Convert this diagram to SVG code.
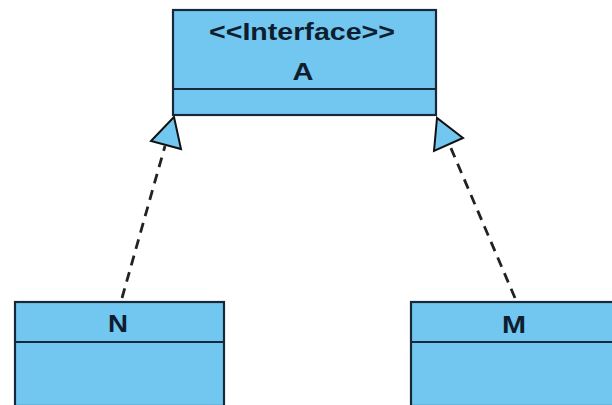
<svg xmlns="http://www.w3.org/2000/svg" width="612" height="405" viewBox="0 0 612 405">
  <style>
    .box { fill: #72c7f0; stroke: #16283a; stroke-width: 2.2; }
    .div { stroke: #16283a; stroke-width: 2.2; }
    .lbl { font-family: "Liberation Sans", Arial, sans-serif; font-weight: bold; font-size: 23px; fill: #0f1e2e; text-anchor: middle; }
    .dash { stroke: #222; stroke-width: 2.8; stroke-dasharray: 10 7; fill: none; }
    .head { fill: #72c7f0; stroke: #111; stroke-width: 2; stroke-linejoin: miter; }
  </style>
  <rect width="612" height="405" fill="#ffffff"/>

  <!-- interface A -->
  <g id="A">
    <rect class="box" x="173" y="10" width="263" height="105"/>
    <line class="div" x1="173" y1="89" x2="436" y2="89"/>
    <text class="lbl" x="302" y="40" textLength="186" lengthAdjust="spacingAndGlyphs">&lt;&lt;Interface&gt;&gt;</text>
    <text class="lbl" x="303" y="80" textLength="21" lengthAdjust="spacingAndGlyphs">A</text>
  </g>

  <!-- class N -->
  <g id="N">
    <rect class="box" x="15" y="302" width="209" height="104"/>
    <line class="div" x1="15" y1="342" x2="224" y2="342"/>
    <text class="lbl" x="118" y="332" textLength="20" lengthAdjust="spacingAndGlyphs">N</text>
  </g>

  <!-- class M -->
  <g id="M">
    <rect class="box" x="411" y="302" width="210" height="104"/>
    <line class="div" x1="411" y1="342" x2="621" y2="342"/>
    <text class="lbl" x="514" y="333" textLength="24" lengthAdjust="spacingAndGlyphs">M</text>
  </g>

  <!-- realization connectors -->
  <g id="connectors">
    <line class="dash" x1="122" y1="298" x2="165" y2="146"/>
    <polygon class="head" points="174,117 151,141 181,149"/>
    <line class="dash" x1="515" y1="298" x2="450" y2="146"/>
    <polygon class="head" points="437,118 434,151 463,138"/>
  </g>
</svg>
